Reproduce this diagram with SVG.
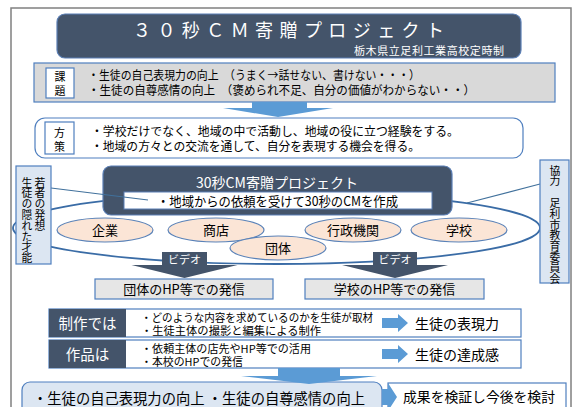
<svg xmlns="http://www.w3.org/2000/svg" width="573" height="407" viewBox="0 0 573 407">
<style>
text{font-family:"Noto Sans CJK JP","Noto Sans CJK SC",sans-serif;fill:#000}
.w{fill:#fff}
.bd{stroke:#4f7fbf;stroke-width:1.2}
.navy{fill:#44546a}
.peach{fill:#fbe5d6;stroke:#5a82b8;stroke-width:1.2}
.blue{fill:#5b9bd5}
.vt{writing-mode:vertical-rl;font-size:10.8px}
</style>
<rect x="11" y="8" width="560" height="410" fill="#fff" stroke="#808080" stroke-width="1.5"/>
<g id="title">
<rect x="57" y="14" width="464" height="44" rx="8" class="navy" stroke="#5b7fb5" stroke-width="1.2"/>
<text x="133" y="37" font-size="18" textLength="311" lengthAdjust="spacing" class="w">３０秒ＣＭ寄贈プロジェクト</text>
<text x="354" y="55" font-size="11" textLength="150" lengthAdjust="spacing" class="w">栃木県立足利工業高校定時制</text>
</g>
<g id="kadai">
<rect x="34" y="63" width="521" height="39" fill="#d9d9d9" class="bd"/>
<rect x="46" y="68" width="28" height="30" fill="#fff" class="bd"/>
<text x="60" y="80.5" font-size="11" text-anchor="middle">課</text>
<text x="60" y="94.5" font-size="11" text-anchor="middle">題</text>
<text x="88" y="80" font-size="12" textLength="332" lengthAdjust="spacingAndGlyphs">・生徒の自己表現力の向上　（うまく→話せない、書けない・・・）</text>
<text x="88" y="95" font-size="12" textLength="387" lengthAdjust="spacingAndGlyphs">・生徒の自尊感情の向上　（褒められ不足、自分の価値がわからない・・）</text>
</g>
<g id="connectors">
<polygon class="blue" points="252,102 307,102 307,108 333,108 278,117 223,108 252,108"/>
</g>
<g id="housaku">
<rect x="35" y="118" width="488" height="40" rx="10" fill="#fff" class="bd"/>
<rect x="45" y="122" width="29" height="32" fill="#fff" class="bd"/>
<text x="59.5" y="136.5" font-size="11" text-anchor="middle">方</text>
<text x="59.5" y="150.5" font-size="11" text-anchor="middle">策</text>
<text x="91" y="135.5" font-size="12" textLength="368" lengthAdjust="spacingAndGlyphs">・学校だけでなく、地域の中で活動し、地域の役に立つ経験をする。</text>
<text x="91" y="150.5" font-size="12" textLength="329" lengthAdjust="spacingAndGlyphs">・地域の方々との交流を通して、自分を表現する機会を得る。</text>
</g>
<g id="region">
<ellipse cx="276.5" cy="228" rx="263.5" ry="36" fill="none" stroke="#3a6ca6" stroke-width="1.8"/>
</g>
<g id="kigyo"><ellipse cx="105" cy="230" rx="48" ry="12" class="peach"/><text x="105" y="235" font-size="13" text-anchor="middle">企業</text></g>
<g id="shoten"><ellipse cx="216" cy="230" rx="48" ry="12" class="peach"/><text x="216" y="235" font-size="13" text-anchor="middle">商店</text></g>
<g id="gyosei"><ellipse cx="353" cy="230" rx="48" ry="12" class="peach"/><text x="353" y="235" font-size="13" text-anchor="middle">行政機関</text></g>
<g id="gakko"><ellipse cx="459" cy="230" rx="48" ry="12" class="peach"/><text x="459" y="235" font-size="13" text-anchor="middle">学校</text></g>
<g id="dantai"><ellipse cx="278" cy="248" rx="48" ry="12" class="peach"/><text x="278" y="253" font-size="13" text-anchor="middle">団体</text></g>
<g id="project">
<rect x="103" y="166" width="349" height="49" rx="8" class="navy" stroke="#5b7fb5" stroke-width="1.2"/>
<text x="277" y="188" font-size="14" text-anchor="middle" class="w">30秒CM寄贈プロジェクト</text>
<rect x="124" y="192" width="308" height="17" fill="#fff" stroke="#5b7fb5" stroke-width="1"/>
<text x="157" y="206" font-size="13" textLength="241" lengthAdjust="spacingAndGlyphs">・地域からの依頼を受けて30秒のCMを作成</text>
</g>
<g id="callouts" stroke="#41719c" stroke-width="1.1" fill="none">
<line x1="51" y1="188" x2="148" y2="200"/>
<line x1="540" y1="184" x2="467" y2="203"/>
</g>
<g id="wakamono">
<rect x="16" y="166" width="35" height="98" fill="#dce6f2" class="bd"/>
<text x="40" y="177" class="vt">若者の発想</text>
<text x="27" y="177" class="vt">生徒の隠れた才能</text>
</g>
<g id="kyoryoku">
<rect x="540" y="160" width="29" height="123" fill="#dce6f2" class="bd"/>
<text x="555" y="165" class="vt">協力　足利市教育委員会</text>
</g>
<g id="video1">
<polygon class="navy" points="162,252 207,252 207,265 237.5,265 184.5,278 131.5,265 162,265"/>
<text x="184.5" y="264" font-size="11" text-anchor="middle" class="w">ビデオ</text>
</g>
<g id="video2">
<polygon class="navy" points="373,252 417,252 417,265 448,265 395,278 342,265 373,265"/>
<text x="395" y="264" font-size="11" text-anchor="middle" class="w">ビデオ</text>
</g>
<g id="hp1">
<rect x="95" y="279" width="178" height="20" fill="#e6e6e6" class="bd"/>
<text x="184" y="294" font-size="13" text-anchor="middle">団体のHP等での発信</text>
</g>
<g id="hp2">
<rect x="305" y="279" width="179" height="20" fill="#e6e6e6" class="bd"/>
<text x="394.5" y="294" font-size="13" text-anchor="middle">学校のHP等での発信</text>
</g>
<g id="seisaku">
<rect x="49" y="309" width="472" height="28" fill="#fff" class="bd"/>
<rect x="49" y="309" width="77" height="28" class="navy"/>
<text x="87.5" y="328.5" font-size="14.5" text-anchor="middle" class="w">制作では</text>
<text x="141" y="321.5" font-size="11" textLength="232" lengthAdjust="spacingAndGlyphs">・どのような内容を求めているのかを生徒が取材</text>
<text x="141" y="335" font-size="11" textLength="180" lengthAdjust="spacingAndGlyphs">・生徒主体の撮影と編集による制作</text>
<polygon class="blue" points="382,318 398,318 398,314 408,323 398,332 398,328 382,328"/>
<text x="415" y="329" font-size="14">生徒の表現力</text>
</g>
<g id="sakuhin">
<rect x="49" y="340" width="472" height="28" fill="#fff" class="bd"/>
<rect x="49" y="340" width="77" height="28" class="navy"/>
<text x="87.5" y="359.5" font-size="14.5" text-anchor="middle" class="w">作品は</text>
<text x="141" y="352.5" font-size="11" textLength="170" lengthAdjust="spacingAndGlyphs">・依頼主体の店先やHP等での活用</text>
<text x="141" y="366" font-size="11" textLength="102" lengthAdjust="spacingAndGlyphs">・本校のHPでの発信</text>
<polygon class="blue" points="382,349 398,349 398,345 408,354 398,363 398,359 382,359"/>
<text x="415" y="360" font-size="14">生徒の達成感</text>
</g>
<g id="result">
<rect x="22" y="382" width="360" height="40" rx="8" fill="#dce6f2" class="bd"/>
<polygon class="blue" points="278,368 340,368 340,376 377,376 309,384 241,376 278,376"/>
<text x="33" y="403.5" font-size="14.5" textLength="332" lengthAdjust="spacingAndGlyphs">・生徒の自己表現力の向上 ・生徒の自尊感情の向上</text>
</g>
<g id="verify">
<rect x="388" y="383" width="178" height="30" fill="#fff" class="bd"/>
<polygon class="blue" points="382,389 388,389 388,383 397,397 388,411 388,405 382,405"/>
<text x="403" y="402" font-size="14" textLength="152" lengthAdjust="spacingAndGlyphs">成果を検証し今後を検討</text>
</g>
</svg>
